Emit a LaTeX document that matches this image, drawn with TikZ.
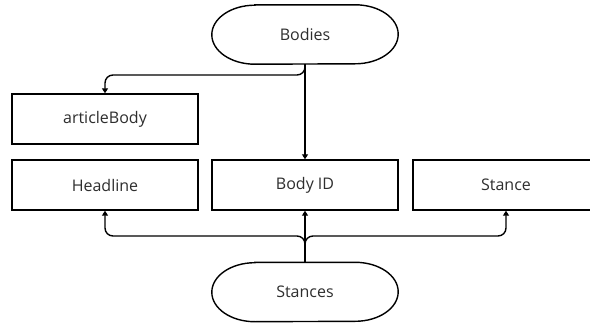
\documentclass[tikz,border=0pt]{standalone}
\usepackage{fontspec}
\setmainfont{Open Sans}
\usetikzlibrary{arrows.meta}
\definecolor{txt}{HTML}{2E2E2E}
\tikzset{
  box/.style={draw=black, line width=1.4pt, minimum width=186pt, minimum height=50pt, inner sep=0pt, font=\fontsize{16}{19}\selectfont, text=txt},
  term/.style={minimum width=186pt, minimum height=59pt, inner sep=0pt, font=\fontsize{16}{19}\selectfont, text=txt},
  termline/.style={draw=black, line width=1.4pt},
  conn/.style={line width=1.4pt, rounded corners=8pt, -{Triangle[length=5pt,width=6pt]}}
}
\begin{document}
\begin{tikzpicture}[x=1pt,y=-1pt]
\clip (0,0) rectangle (590,324);
\fill[white] (0,0) rectangle (590,324);
\node[term] (bodies) at (305,34.5) {Bodies};
\node[box] (article) at (105,119) {articleBody};
\node[box] (headline) at (105,185) {Headline};
\node[box] (bodyid) at (305,185) {Body ID};
\node[box] (stance) at (506,185) {Stance};
\node[term] (stances) at (305,292) {Stances};
\foreach \n in {bodies,stances}{
  \draw[termline] ([xshift=43pt]\n.north west) -- ([xshift=-43pt]\n.north east)
    arc[start angle=-90,end angle=90,x radius=43,y radius=29.5]
    -- ([xshift=43pt]\n.south west)
    arc[start angle=90,end angle=270,x radius=43,y radius=29.5] -- cycle;
}
\coordinate (topj) at (305,75);
\coordinate (botj) at (305,236);
\draw[conn] (bodies.south) -- (bodyid.north);
\draw[conn] (bodies.south) -- (topj) -| (article.north);
\draw[conn] (stances.north) -- (bodyid.south);
\draw[conn] (stances.north) -- (botj) -| (headline.south);
\draw[conn] (stances.north) -- (botj) -| (stance.south);
\end{tikzpicture}
\end{document}
